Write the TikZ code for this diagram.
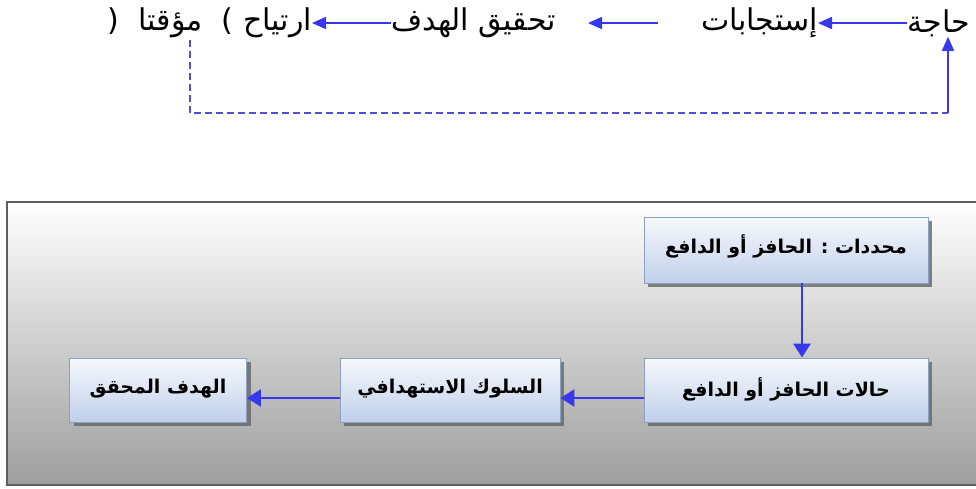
\documentclass[tikz,border=0pt]{standalone}
\usepackage{fontspec}
\usetikzlibrary{arrows.meta,shadows}
\TeXXeTstate=1
\newfontfamily\arabicfont[Script=Arabic]{DejaVu Sans}
\definecolor{linkblue}{RGB}{55,55,235}
\definecolor{dashblue}{RGB}{80,80,215}
\definecolor{boxtop}{RGB}{246,249,253}
\definecolor{boxbottom}{RGB}{192,208,234}
\definecolor{boxedge}{RGB}{140,160,195}
\definecolor{paneledge}{RGB}{95,95,95}
\tikzset{
  toptext/.style={inner sep=0pt, font=\arabicfont\fontsize{30}{34}\selectfont},
  toplink/.style={draw=linkblue, line width=1.6pt, -{Triangle[length=14pt,width=12pt]}},
  backlink/.style={draw=dashblue, line width=1.6pt, dash pattern=on 7pt off 4pt},
  panelbox/.style={draw=paneledge, line width=1.6pt, top color=white, bottom color=black!38,
    drop shadow={shadow xshift=1.5pt, shadow yshift=-1.5pt, fill=black!35, opacity=0.6},
    inner sep=0pt, anchor=north west},
  stepbox/.style={draw=boxedge, line width=0.9pt, top color=boxtop, bottom color=boxbottom,
    drop shadow={shadow xshift=4pt, shadow yshift=-4pt, fill=black!60, opacity=0.8},
    inner sep=0pt, font=\arabicfont\bfseries\fontsize{19}{23}\selectfont},
  boxlink/.style={draw=linkblue, line width=2.8pt, -{Triangle[length=14pt,width=17pt]}}
}
\begin{document}
\begin{tikzpicture}[x=1pt,y=-1pt]
\useasboundingbox (0,0) rectangle (976,488);
\clip (0,0) rectangle (976,488);

% upper chain: need -> responses -> goal reached -> (temporary) relief
% (lone brackets are set unmirrored, so they are written in visual order)
\node[toptext, anchor=east] (need)   at (970,23) {\beginR حاجة\endR};
\node[toptext, anchor=east] (resp)   at (818,23) {\beginR إستجابات\endR};
\node[toptext, anchor=east] (goal)   at (556,23) {\beginR تحقيق الهدف\endR};
\node[toptext, anchor=east] (relief) at (312,23) {\beginR ارتياح ) \ مؤقتا \ (\endR};

\draw[toplink] (need.west) -- (resp.east);
\draw[toplink, shorten <=43pt, shorten >=32pt] (resp.west) -- (goal.east);
\draw[toplink] (goal.west) -- (relief.east);

% feedback loop back to the need
\coordinate (fbTop) at (190,40);
\coordinate (fbL) at (190,113);
\coordinate (fbR) at (948,113);
\draw[backlink] (fbTop) -- (fbL) -- (fbR);
\draw[toplink] (fbR) -- (fbR |- need.south);

% lower panel
\node[panelbox, minimum width=1000pt, minimum height=283pt] (panel) at (6,201) {};

\node[stepbox, minimum width=284pt, minimum height=66pt] (det) at (786,250)
  {\raisebox{11pt}{\beginR محددات : الحافز أو الدافع\endR}};
\node[stepbox, minimum width=284pt, minimum height=64pt] (state) at (786,390)
  {\raisebox{5pt}{\beginR حالات الحافز أو الدافع\endR}};
\node[stepbox, minimum width=220pt, minimum height=64pt] (behav) at (450,390)
  {\raisebox{8pt}{\beginR السلوك الاستهدافي\endR}};
\node[stepbox, minimum width=177pt, minimum height=64pt] (target) at (158,390)
  {\raisebox{8pt}{\beginR الهدف المحقق\endR}};

\draw[boxlink] ([xshift=16pt]det.south) -- ([xshift=16pt]state.north);
\draw[boxlink] ([yshift=-8pt]state.west) -- ([yshift=-8pt]behav.east);
\draw[boxlink] ([yshift=-8pt]behav.west) -- ([yshift=-8pt]target.east);
\end{tikzpicture}
\end{document}
